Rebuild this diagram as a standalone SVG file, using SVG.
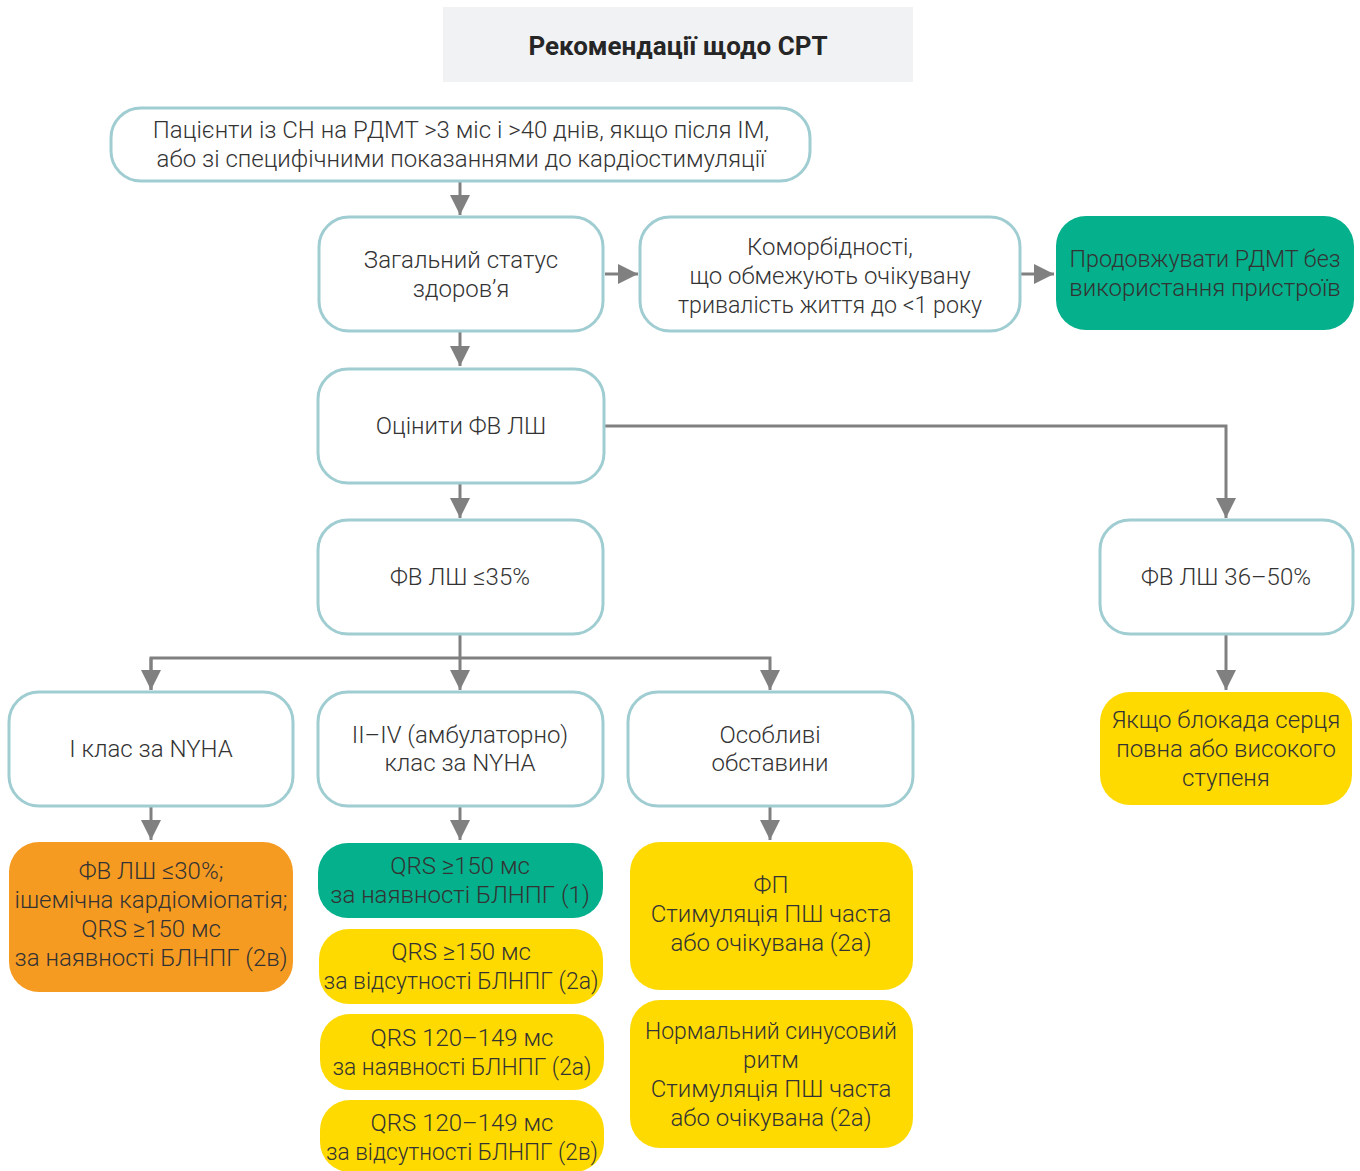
<svg xmlns="http://www.w3.org/2000/svg" width="1360" height="1171" viewBox="0 0 1360 1171">
<defs>
<style>
.t{font-family:Roboto,"Liberation Sans",sans-serif;font-weight:300;font-size:24px;fill:#333;text-anchor:middle}
.title{font-family:Roboto,"Liberation Sans",sans-serif;font-weight:700;font-size:26px;fill:#262626;text-anchor:middle}
.w{fill:#fff;stroke:#9fcdd1;stroke-width:3}
.g{fill:#05b08c}
.y{fill:#ffda00}
.o{fill:#f69b22}
.c{fill:none;stroke:#808080;stroke-width:3}
</style>
<marker id="ah" markerUnits="userSpaceOnUse" markerWidth="20" markerHeight="20" refX="18" refY="9" orient="auto" viewBox="0 0 18 18">
<path d="M0,0 L18,9 L0,18 z" fill="#808080"/>
</marker>
</defs>
<rect width="1360" height="1171" fill="#fff"/>
<g id="connectors">
<path class="c" d="M460,182 V215" marker-end="url(#ah)"/>
<path class="c" d="M605,274 H638" marker-end="url(#ah)"/>
<path class="c" d="M1021,274 H1054" marker-end="url(#ah)"/>
<path class="c" d="M460,332 V366" marker-end="url(#ah)"/>
<path class="c" d="M460,484 V518" marker-end="url(#ah)"/>
<path class="c" d="M605,426 H1226 V518" marker-end="url(#ah)"/>
<path class="c" d="M1226,635 V690" marker-end="url(#ah)"/>
<path class="c" d="M460,635 V658"/>
<path class="c" d="M151,690 V658 H770 V690" marker-end="url(#ah)"/>
<path class="c" d="M151,658 V690" marker-end="url(#ah)"/>
<path class="c" d="M460,658 V690" marker-end="url(#ah)"/>
<path class="c" d="M151,807 V840" marker-end="url(#ah)"/>
<path class="c" d="M460,807 V840" marker-end="url(#ah)"/>
<path class="c" d="M770,807 V840" marker-end="url(#ah)"/>
</g>
<g id="title">
<rect x="443" y="7" width="470" height="75" fill="#f1f2f4"/>
<text class="title" x="678" y="55">Рекомендації щодо СРТ</text>
</g>
<g id="n1">
<rect class="w" x="111" y="108" width="699" height="73" rx="30"/>
<text class="t" x="461" y="138">Пацієнти із СН на РДМТ &gt;3 міс і &gt;40 днів, якщо після ІМ,</text>
<text class="t" x="461" y="167">або зі специфічними показаннями до кардіостимуляції</text>
</g>
<g id="n2">
<rect class="w" x="319" y="217" width="284" height="114" rx="30"/>
<text class="t" x="461" y="268">Загальний статус</text>
<text class="t" x="461" y="297">здоров’я</text>
</g>
<g id="n3">
<rect class="w" x="640" y="217" width="380" height="114" rx="30"/>
<text class="t" x="830" y="255">Коморбідності,</text>
<text class="t" x="830" y="284">що обмежують очікувану</text>
<text class="t" x="830" y="313" textLength="304" lengthAdjust="spacingAndGlyphs">тривалість життя до &lt;1 року</text>
</g>
<g id="n4">
<rect class="g" x="1056" y="216" width="298" height="114" rx="30"/>
<text class="t" x="1205" y="267" textLength="271" lengthAdjust="spacingAndGlyphs">Продовжувати РДМТ без</text>
<text class="t" x="1205" y="296">використання пристроїв</text>
</g>
<g id="n5">
<rect class="w" x="318" y="369" width="286" height="114" rx="30"/>
<text class="t" x="461" y="434">Оцінити ФВ ЛШ</text>
</g>
<g id="n6">
<rect class="w" x="318" y="520" width="285" height="114" rx="30"/>
<text class="t" x="460" y="585">ФВ ЛШ ≤35%</text>
</g>
<g id="n7">
<rect class="w" x="1100" y="520" width="253" height="114" rx="30"/>
<text class="t" x="1226" y="585">ФВ ЛШ 36–50%</text>
</g>
<g id="n8">
<rect class="y" x="1100" y="692" width="252" height="113" rx="30"/>
<text class="t" x="1226" y="728">Якщо блокада серця</text>
<text class="t" x="1226" y="757">повна або високого</text>
<text class="t" x="1226" y="786">ступеня</text>
</g>
<g id="n9">
<rect class="w" x="9" y="692" width="284" height="114" rx="30"/>
<text class="t" x="151" y="757">I клас за NYHA</text>
</g>
<g id="n10">
<rect class="w" x="318" y="692" width="285" height="114" rx="30"/>
<text class="t" x="460" y="743">II–IV (амбулаторно)</text>
<text class="t" x="460" y="771">клас за NYHA</text>
</g>
<g id="n11">
<rect class="w" x="628" y="692" width="285" height="114" rx="30"/>
<text class="t" x="770" y="743">Особливі</text>
<text class="t" x="770" y="771">обставини</text>
</g>
<g id="n12">
<rect class="o" x="9" y="842" width="284" height="150" rx="30"/>
<text class="t" x="151" y="879">ФВ ЛШ ≤30%;</text>
<text class="t" x="151" y="908">ішемічна кардіоміопатія;</text>
<text class="t" x="151" y="937">QRS ≥150 мс</text>
<text class="t" x="151" y="966">за наявності БЛНПГ (2в)</text>
</g>
<g id="n13">
<rect class="g" x="318" y="843" width="285" height="75" rx="30"/>
<text class="t" x="460" y="874">QRS ≥150 мс</text>
<text class="t" x="460" y="903">за наявності БЛНПГ (1)</text>
</g>
<g id="n14">
<rect class="y" x="319" y="929" width="284" height="75" rx="30"/>
<text class="t" x="461" y="960">QRS ≥150 мс</text>
<text class="t" x="461" y="989" textLength="275" lengthAdjust="spacingAndGlyphs">за відсутності БЛНПГ (2а)</text>
</g>
<g id="n15">
<rect class="y" x="320" y="1014" width="284" height="76" rx="30"/>
<text class="t" x="462" y="1046">QRS 120–149 мс</text>
<text class="t" x="462" y="1075" textLength="259" lengthAdjust="spacingAndGlyphs">за наявності БЛНПГ (2а)</text>
</g>
<g id="n16">
<rect class="y" x="320" y="1100" width="284" height="72" rx="30"/>
<text class="t" x="462" y="1131">QRS 120–149 мс</text>
<text class="t" x="462" y="1160" textLength="272" lengthAdjust="spacingAndGlyphs">за відсутності БЛНПГ (2в)</text>
</g>
<g id="n17">
<rect class="y" x="630" y="842" width="283" height="148" rx="30"/>
<text class="t" x="771" y="893">ФП</text>
<text class="t" x="771" y="922">Стимуляція ПШ часта</text>
<text class="t" x="771" y="951">або очікувана (2а)</text>
</g>
<g id="n18">
<rect class="y" x="630" y="1000" width="283" height="148" rx="30"/>
<text class="t" x="771" y="1039" textLength="252" lengthAdjust="spacingAndGlyphs">Нормальний синусовий</text>
<text class="t" x="771" y="1068">ритм</text>
<text class="t" x="771" y="1097">Стимуляція ПШ часта</text>
<text class="t" x="771" y="1126">або очікувана (2а)</text>
</g>
</svg>
